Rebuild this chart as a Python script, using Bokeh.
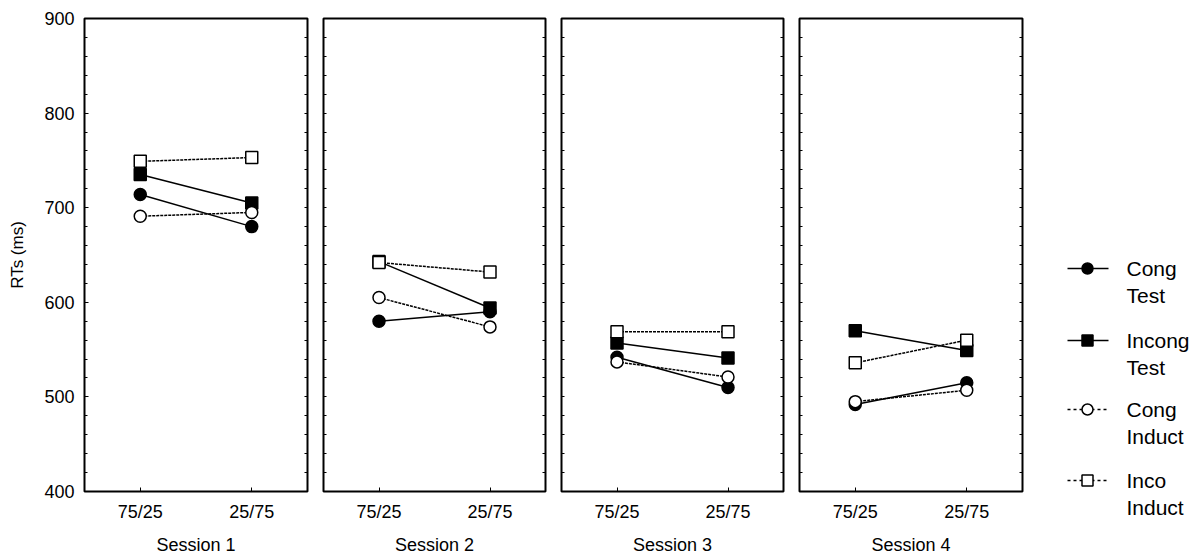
from bokeh.plotting import figure
from bokeh.layouts import row, column
from bokeh.models import FactorRange, Range1d, LinearAxis, SingleIntervalTicker, FixedTicker
from bokeh.core.properties import value
from bokeh.embed import file_html
from bokeh.resources import INLINE

conditions = ["75/25", "25/75"]
sessions = ["Session 1", "Session 2", "Session 3", "Session 4"]

cong_test = [[714, 680], [580, 590], [542, 510], [492, 515]]
incong_test = [[735, 705], [643, 594], [557, 541], [570, 549]]
cong_induct = [[691, 695], [605, 574], [537, 521], [495, 507]]
inco_induct = [[749, 753], [642, 632], [569, 569], [536, 560]]

series_names = [["Cong", "Test"], ["Incong", "Test"], ["Cong", "Induct"], ["Inco", "Induct"]]
series_data = [cong_test, incong_test, cong_induct, inco_induct]
series_marker = ["circle", "square", "circle", "square"]
series_fill = ["black", "black", "white", "white"]
series_dash = ["solid", "solid", "3 1", "3 1"]
legend_dash = ["solid", "solid", "3 3", "3 3"]

y_min, y_max = 400, 900
y_minor_step = 20

FONT = "Liberation Sans"
TOP = 18
FH = 473
BOTTOM = 60
frame_widths = [223, 222, 222, 223]
left_borders = [84, 8, 8, 8]


def tick_style(ax):
    ax.axis_line_color = None
    ax.major_tick_in = 4
    ax.major_tick_out = 0
    ax.minor_tick_in = 3
    ax.minor_tick_out = 0
    ax.major_tick_line_color = "black"
    ax.minor_tick_line_color = "black"


def labelled_y_axis(ax):
    ax.ticker = SingleIntervalTicker(interval=100, num_minor_ticks=5)
    tick_style(ax)
    ax.major_label_text_font = FONT
    ax.major_label_text_font_size = "18px"
    ax.major_label_text_color = "black"
    ax.major_label_standoff = 10


def bare_y_axis(ax):
    ax.ticker = FixedTicker(ticks=[], minor_ticks=list(range(y_min, y_max + 1, y_minor_step)))
    tick_style(ax)


figs = []
for i, sess in enumerate(sessions):
    p = figure(x_range=FactorRange(*conditions), y_range=Range1d(y_min, y_max),
               frame_width=frame_widths[i], frame_height=FH,
               min_border_left=left_borders[i], min_border_right=8,
               min_border_top=TOP, min_border_bottom=BOTTOM,
               output_backend="svg", toolbar_location=None)
    p.outline_line_color = "black"
    p.outline_line_width = 2
    p.xgrid.visible = False
    p.ygrid.visible = False

    xa = p.xaxis[0]
    tick_style(xa)
    xa.major_label_text_font = FONT
    xa.major_label_text_font_size = "18px"
    xa.major_label_text_color = "black"
    xa.major_label_standoff = 10
    xa.axis_label = sess
    xa.axis_label_text_font = FONT
    xa.axis_label_text_font_size = "18px"
    xa.axis_label_text_font_style = "normal"
    xa.axis_label_text_color = "black"
    xa.axis_label_standoff = 10

    ya = p.yaxis[0]
    if i == 0:
        labelled_y_axis(ya)
        ya.axis_label = "RTs (ms)"
        ya.axis_label_text_font = FONT
        ya.axis_label_text_font_size = "17px"
        ya.axis_label_text_font_style = "normal"
        ya.axis_label_text_color = "black"
        ya.axis_label_standoff = 14
    else:
        bare_y_axis(ya)

    ra = LinearAxis()
    bare_y_axis(ra)
    p.add_layout(ra, "right")

    for data, mk, fill, dash in zip(series_data, series_marker, series_fill, series_dash):
        p.line(conditions, data[i], line_color="black", line_width=1.5, line_dash=dash)
        p.scatter(conditions, data[i], marker=mk, size=12, fill_color=fill,
                  line_color="black", line_width=1.5)
    figs.append(p)

# legend panel (coordinates in page pixels)
LX0 = 1030
LW = 165
LT = 230
LH = 310
lg = figure(frame_width=LW, frame_height=LH,
            x_range=Range1d(LX0, LX0 + LW), y_range=Range1d(LT + LH, LT),
            x_axis_type=None, y_axis_type=None,
            min_border_left=0, min_border_right=0,
            min_border_top=LT, min_border_bottom=0,
            output_backend="svg", toolbar_location=None)
lg.outline_line_color = None
lg.xgrid.visible = False
lg.ygrid.visible = False
item_y = [268, 340, 409, 480]
for k, (names, mk, fill, dash) in enumerate(zip(series_names, series_marker, series_fill, legend_dash)):
    y0 = item_y[k]
    lg.line([1067, 1108], [y0, y0], line_color="black", line_width=1.5, line_dash=dash)
    lg.scatter([1087], [y0], marker=mk, size=11, fill_color=fill, line_color="black", line_width=1.5)
    lg.text([1126, 1126], [y0, y0 + 27], text=names, text_baseline="middle", text_align="left",
            text_font=value(FONT), text_font_size="21px", text_color="black")

layout = row(*figs, column(lg))
open("out.html", "w").write(file_html(layout, INLINE))
